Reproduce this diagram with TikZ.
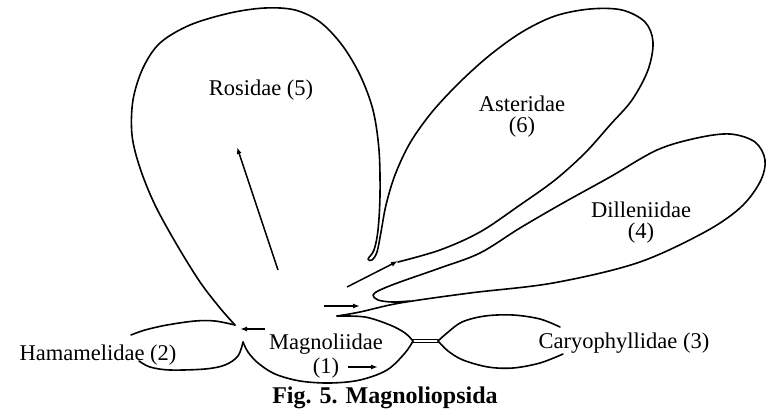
\documentclass[tikz,border=0pt]{standalone}
\usepackage{fontspec}
\setmainfont{Liberation Serif}
\usetikzlibrary{positioning, arrows.meta}

\begin{document}
\begin{tikzpicture}[x=1pt, y=-1pt,
  >={Latex[length=7pt, width=5pt]},
  lobe/.style    = {draw, line width=1.6pt, line join=round, line cap=round},
  descent/.style = {->, line width=1.5pt},
  taxon/.style   = {font=\fontsize{22.5}{21}\selectfont, inner sep=0pt, align=center},
]
  \fill[white] (0,0) rectangle (768,418);
  \useasboundingbox (0,0) rectangle (768,418);

  % Rosidae running into Asteridae
  \draw[lobe] plot[smooth, tension=0.55] coordinates {
    (235,325) (220,308) (200,282) (177,245) (155,205) (140,168) (132,135)
    (133,100) (143,68) (160,43) (190,25) (230,13) (265,8) (295,10) (320,22)
    (342,45) (360,75) (373,110) (379,150) (380,195) (378,230) (374,250)
    (368,259) (372,260) (377,252) (381,232) (386,205) (395,175) (410,143)
    (432,112) (460,82) (490,55) (522,32) (555,16) (590,9) (622,10) (645,22)
    (653,42) (648,70) (632,100) (610,125) (585,153) (555,180) (520,205)
    (480,232) (440,250) (398,262)};

  % Dilleniidae
  \draw[lobe] plot[smooth, tension=0.55] coordinates {
    (337,316) (360,312) (400,303) (470,293) (553,283) (637,263) (703,233)
    (740,208) (760,182) (765,160) (755,142) (730,134) (697,138) (657,150)
    (610,177) (563,203) (520,228) (480,253) (440,268) (400,282) (380,290)
    (373,295) (378,300) (392,302) (410,301)};

  % Magnoliidae
  \draw[lobe] plot[smooth, tension=0.55] coordinates {
    (337,316) (365,317) (390,325) (405,333) (413,341)};
  \draw[lobe] plot[smooth, tension=0.55] coordinates {
    (413,341) (405,353) (387,370) (360,380) (330,383) (300,381) (275,374)
    (258,363) (248,352) (243,342)};

  % Hamamelidae
  \draw[lobe] plot[smooth, tension=0.55] coordinates {
    (235,325) (215,321) (195,321) (167,325) (145,330) (131,335)};
  \draw[lobe] plot[smooth, tension=0.55] coordinates {
    (243,342) (238,356) (225,365) (205,369) (170,370) (150,367) (139,361)};

  % Caryophyllidae and its link
  \draw[lobe, line width=1.2pt] (413,339.2) -- (438,339.2) (413,342.8) -- (438,342.8);
  \draw[lobe] plot[smooth, tension=0.55] coordinates {
    (438,341) (447,333) (462,322) (485,316) (513,315) (540,319) (560,327)};
  \draw[lobe] plot[smooth, tension=0.55] coordinates {
    (438,341) (448,351) (463,360) (488,367) (513,368) (540,363) (563,354)};

  % labels
  \node[taxon] (ros) at (261,90)  {Rosidae (5)};
  \node[taxon] (ast) at (522,117) {Asteridae\\(6)};
  \node[taxon] (dil) at (641,223) {Dilleniidae\\(4)};
  \node[taxon] (ham) at (98,355)  {Hamamelidae (2)};
  \node[taxon] (mag) at (326,344) {Magnoliidae};
  \node[taxon, below=3pt of mag] (one) {(1)};
  \node[taxon] (car) at (624,343) {Caryophyllidae (3)};
  \node[font=\fontsize{24}{26}\selectfont\bfseries, inner sep=0pt] (fig)
    at (385,398) {Fig. 5. Magnoliopsida};

  % lines of descent
  \coordinate (rosA) at (278,270); \coordinate (rosB) at (237,147);
  \coordinate (astA) at (347,287); \coordinate (astB) at (398,261);
  \coordinate (dilA) at (324,306); \coordinate (dilB) at (360,306);
  \coordinate (hamA) at (265,329); \coordinate (hamB) at (240,329);
  \coordinate (carA) at (348,367); \coordinate (carB) at (378,367);
  \draw[descent] (rosA) -- (rosB);
  \draw[descent] (astA) -- (astB);
  \draw[descent] (dilA) -- (dilB);
  \draw[descent] (hamA) -- (hamB);
  \draw[descent] (carA) -- (carB);
\end{tikzpicture}
\end{document}
